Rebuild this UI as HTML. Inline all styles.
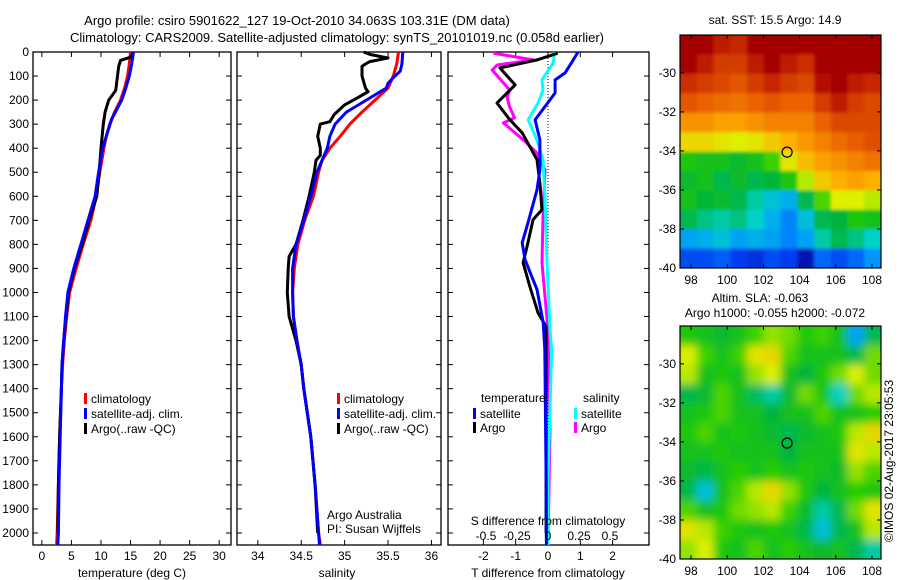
<!DOCTYPE html>
<html><head><meta charset="utf-8"><style>
html,body{margin:0;padding:0;background:#fff;}
svg{display:block;font-family:"Liberation Sans",sans-serif;font-size:12px;}
</style></head><body>
<svg id="fig" width="900" height="580" viewBox="0 0 900 580" xmlns="http://www.w3.org/2000/svg">
<g id="titles">
<text x="297" y="25" text-anchor="middle" font-size="13">Argo profile: csiro 5901622_127 19-Oct-2010 34.063S 103.31E (DM data)</text>
<text x="337" y="42" text-anchor="middle" font-size="13">Climatology: CARS2009. Satellite-adjusted climatology: synTS_20101019.nc (0.058d earlier)</text>
</g>
<g id="p1"></g>
<g id="p2"></g>
<g id="p3"></g>
<g id="m1"></g>
<g id="m2"></g>
<text x="775" y="24" text-anchor="middle">sat. SST: 15.5 Argo: 14.9</text>
<text x="760" y="302" text-anchor="middle">Altim. SLA: -0.063</text>
<text x="775" y="317" text-anchor="middle">Argo h1000: -0.055 h2000: -0.072</text>
<text transform="translate(893,461) rotate(-90)" text-anchor="middle">©IMOS 02-Aug-2017 23:05:53</text>
</svg>
<script>
// ---------- data ----------
const depthTicks=[0,100,200,300,400,500,600,700,800,900,1000,1100,1200,1300,1400,1500,1600,1700,1800,1900,2000];
const tTicks=[0,5,10,15,20,25,30];
const sTicks=[34,34.5,35,35.5,36];
const dTTicks=[-2,-1,0,1,2];
const dSTicks=[-0.5,-0.25,0,0.25,0.5];
const dSTickLabels=["-0.5","-0.25","0","0.25","0.5"];

const climTDepth=[0,50,100,150,200,250,300,350,400,500,600,700,800,900,1000,1100,1200,1300,1400,1600,1800,2000,2050];
const climTVal=[15.0,14.8,14.5,14.0,13.3,12.3,11.5,10.9,10.5,9.8,9.2,8.3,7.0,5.8,4.7,4.2,3.8,3.5,3.3,3.0,2.8,2.6,2.5];
const satTDepth=[0,50,100,150,200,280,350,400,500,600,700,800,900,1000,1100,1200,1300,1400,1600,1800,2000,2050];
const satTVal=[15.5,15.2,14.8,14.2,13.5,11.8,10.9,10.3,9.6,9.0,7.8,6.6,5.4,4.4,4.0,3.7,3.4,3.3,3.1,2.9,2.8,2.7];
const argoTDepth=[0,20,35,60,100,160,200,250,300,400,500,600,700,800,900,1000,1100,1200,1300,1400,1600,1800,2000];
const argoTVal=[15.4,15.2,13.3,13.0,12.8,12.5,11.3,10.7,10.4,10.0,9.7,9.3,8.0,6.8,5.5,4.5,4.1,3.7,3.4,3.3,3.0,2.8,2.7];

const climSDepth=[0,50,100,150,200,250,300,350,400,450,500,600,700,800,900,1000,1100,1200,1300,1400,1600,1800,2000,2050];
const climSVal=[35.62,35.60,35.56,35.50,35.35,35.20,35.06,34.95,34.83,34.74,34.70,34.64,34.54,34.46,34.42,34.40,34.41,34.45,34.50,34.53,34.61,34.66,34.70,34.72];
const satSDepth=[0,50,80,100,130,150,200,250,300,350,400,500,600,700,800,900,1000,1100,1200,1300,1400,1600,1800,2000,2050];
const satSVal=[35.67,35.66,35.64,35.58,35.50,35.48,35.25,35.02,34.89,34.83,34.80,34.68,34.61,34.53,34.44,34.40,34.40,34.41,34.45,34.50,34.53,34.61,34.66,34.70,34.71];
const argoSDepth=[0,10,25,40,50,60,100,150,165,190,220,260,290,300,350,400,430,450,500,600,700,800,850,900,1000,1100,1200,1300,1400,1600,1800,2000];
const argoSVal=[35.22,35.29,35.50,35.29,35.24,35.20,35.20,35.24,35.27,35.15,35.00,34.88,34.83,34.72,34.69,34.72,34.72,34.67,34.65,34.59,34.52,34.44,34.36,34.35,34.34,34.36,34.44,34.50,34.53,34.61,34.66,34.69];

const dTsatDepth=[0,42,87,116,170,210,282,365,490,573,710,793,864,988,1125,1236,1764,2050];
const dTsatVal=[0.93,0.74,0.53,0.22,0.22,0,-0.40,-0.25,-0.25,-0.34,-0.62,-0.80,-0.71,-0.34,-0.15,-0.10,-0.06,-0.05];
const dTargoDepth=[5,33,66,137,212,282,336,448,544,656,697,810,876,976,1084,1142,1764,2000];
const dTargoVal=[0.30,-0.34,-1.49,-1.02,-1.58,-1.18,-0.80,-0.34,-0.25,-0.19,-0.46,-0.65,-0.77,-0.56,-0.31,-0.06,-0.06,-0.06];
const dSsatDepth=[0,46,116,158,212,282,365,448,602,876,1154,1237,1764,2050];
const dSsatVal=[0.056,0.04,-0.048,-0.04,-0.08,-0.16,-0.09,-0.04,-0.024,-0.008,0.016,0.03,0.0,0.0];
const dSargoDepth=[5,33,54,75,158,190,228,274,295,365,419,490,685,876,1017,1154,1569,2050];
const dSargoVal=[-0.44,-0.12,-0.41,-0.45,-0.31,-0.33,-0.31,-0.27,-0.36,-0.20,-0.09,-0.024,-0.04,-0.048,-0.024,0.0,0.016,0.0];

const sstGrid=[
[1,1,.95,.93,1,1,1,1,1,1,1,1],
[1,.95,.9,.9,.95,1,.95,.92,1,1,1,1],
[.92,.9,.88,.86,.9,.93,.9,.88,.97,1,.95,.93],
[.86,.84,.83,.82,.84,.86,.84,.84,.9,.95,.9,.88],
[.78,.78,.76,.76,.78,.8,.8,.8,.84,.88,.88,.88],
[.68,.68,.66,.64,.66,.7,.74,.77,.8,.83,.85,.87],
[.52,.5,.5,.48,.5,.55,.66,.72,.76,.78,.8,.82],
[.48,.5,.45,.48,.45,.47,.52,.62,.7,.74,.76,.74],
[.5,.47,.48,.45,.4,.35,.32,.45,.56,.64,.64,.62],
[.45,.42,.4,.42,.38,.32,.25,.35,.45,.46,.52,.5],
[.3,.32,.35,.3,.32,.3,.25,.3,.4,.45,.42,.38],
[.15,.15,.18,.12,.1,.15,.12,.05,.2,.15,.2,.28]];
const slaGrid=[
[.52,.5,.48,.5,.55,.6,.58,.52,.55,.5,.3,.45],
[.64,.55,.5,.55,.66,.68,.56,.5,.5,.5,.45,.58],
[.62,.5,.52,.5,.6,.64,.5,.46,.52,.58,.64,.58],
[.45,.48,.56,.5,.44,.4,.48,.58,.52,.38,.58,.62],
[.5,.52,.56,.5,.5,.46,.5,.5,.56,.5,.5,.54],
[.52,.56,.5,.52,.5,.48,.45,.48,.5,.52,.62,.68],
[.5,.5,.52,.5,.5,.5,.46,.5,.5,.5,.66,.62],
[.48,.45,.5,.54,.5,.54,.5,.52,.5,.48,.6,.56],
[.45,.35,.5,.56,.62,.68,.6,.52,.46,.5,.54,.52],
[.56,.5,.52,.58,.6,.62,.55,.48,.4,.45,.58,.66],
[.66,.62,.55,.52,.5,.52,.5,.45,.35,.45,.5,.62],
[.6,.64,.52,.5,.56,.5,.54,.5,.48,.5,.45,.4]];
const sstLonTicks=[98,100,102,104,106,108];
const sstLatTicks=[-30,-32,-34,-36,-38,-40];
const argoLon=[103.31];
const argoLat=[-34.063];

// ---------- helpers ----------
const NS="http://www.w3.org/2000/svg";
function mk(p,tag,at){const e=document.createElementNS(NS,tag);for(const k in at)e.setAttribute(k,at[k]);p.appendChild(e);return e;}
const top0=52,bot0=545,dMax=2050;
const yD=d=>top0+d/dMax*(bot0-top0);
function lin(d0,d1,p0,p1){return v=>p0+(v-d0)/(d1-d0)*(p1-p0);}
const xT=lin(-1.5,32,33,231);
const xS=lin(33.76,36.11,237,441);
const xDT=lin(0,1,548,580.3);
const xDS=lin(0,1,548,672);

function box(g,x0,x1,depthLabels){
  const f=mk(g,'rect',{x:x0,y:top0,width:x1-x0,height:bot0-top0,fill:'none',stroke:'#000','stroke-width':1.3});
  
  depthTicks.forEach(d=>{
    mk(g,'line',{x1:x0,x2:x0+5,y1:yD(d),y2:yD(d),stroke:'#000'});
    mk(g,'line',{x1:x1-5,x2:x1,y1:yD(d),y2:yD(d),stroke:'#000'});
    if(depthLabels){const t=mk(g,'text',{x:x0-4,y:yD(d)+4,'text-anchor':'end'});t.textContent=d;
      }
  });
}
function xticks(g,vals,labels,fx,ly,tickBottom,tickTop){
  vals.forEach((v,i)=>{
    const x=fx(v);
    if(tickBottom)mk(g,'line',{x1:x,x2:x,y1:bot0,y2:bot0-5,stroke:'#000'});
    if(tickTop)mk(g,'line',{x1:x,x2:x,y1:top0,y2:top0+5,stroke:'#000'});
    const t=mk(g,'text',{x:x,y:ly,'text-anchor':'middle'});t.textContent=labels?labels[i]:v;
    
  });
}
function line(g,depths,vals,fx,color,name){
  const pts=depths.map((d,i)=>fx(vals[i]).toFixed(1)+','+yD(d).toFixed(1)).join(' ');
  const l=mk(g,'polyline',{points:pts,fill:'none',stroke:color,'stroke-width':3,'stroke-linejoin':'round'});
  
}
function legend(g,x,y,color,label){
  mk(g,'rect',{x:x,y:y-10,width:3,height:11,fill:color});
  const t=mk(g,'text',{x:x+7,y:y});t.textContent=label;
  
}
function txt(g,x,y,s,anchor,name){const t=mk(g,'text',{x:x,y:y,'text-anchor':anchor||'start'});t.textContent=s;
  return t;}

// ---------- panel 1 ----------
const p1=document.getElementById('p1');
box(p1,33,231,true);
xticks(p1,tTicks,null,xT,560,true,true);
txt(p1,132,577,'temperature (deg C)','middle','x-axis-title');
line(p1,climTDepth,climTVal,xT,'#f00','climatology-line');
line(p1,argoTDepth,argoTVal,xT,'#000','argo-line');
line(p1,satTDepth,satTVal,xT,'#00f','satellite-line');
legend(p1,84,403,'#f00','climatology');
legend(p1,84,418,'#00f','satellite-adj. clim.');
legend(p1,84,433,'#000','Argo(..raw -QC)');

// ---------- panel 2 ----------
const p2=document.getElementById('p2');
box(p2,237,441,false);
xticks(p2,sTicks,null,xS,560,true,true);
txt(p2,337,577,'salinity','middle','x-axis-title');
line(p2,climSDepth,climSVal,xS,'#f00','climatology-line');
line(p2,argoSDepth,argoSVal,xS,'#000','argo-line');
line(p2,satSDepth,satSVal,xS,'#00f','satellite-line');
legend(p2,337,403,'#f00','climatology');
legend(p2,337,418,'#00f','satellite-adj. clim.');
legend(p2,337,433,'#000','Argo(..raw -QC)');
txt(p2,327,519,'Argo Australia','start','credit-line-1');
txt(p2,327,533,'PI: Susan Wijffels','start','credit-line-2');

// ---------- panel 3 ----------
const p3=document.getElementById('p3');
box(p3,448,649,false);
mk(p3,'line',{x1:548,x2:548,y1:top0,y2:bot0,stroke:'#000','stroke-dasharray':'1,2'});
xticks(p3,dTTicks,null,xDT,560,true,true);
txt(p3,548,577,'T difference from climatology','middle','x-axis-title');
line(p3,dSargoDepth,dSargoVal,xDS,'#f0f','salinity-argo-line');
line(p3,dSsatDepth,dSsatVal,xDS,'#0ff','salinity-satellite-line');
line(p3,dTargoDepth,dTargoVal,xDT,'#000','temperature-argo-line');
line(p3,dTsatDepth,dTsatVal,xDT,'#00f','temperature-satellite-line');
txt(p3,481,402,'temperature','start','legend-heading');
txt(p3,583,402,'salinity','start','legend-heading');
legend(p3,473,418,'#00f','satellite');
legend(p3,473,432,'#000','Argo');
legend(p3,574,418,'#0ff','satellite');
legend(p3,574,432,'#f0f','Argo');
txt(p3,548,525,'S difference from climatology','middle','secondary-axis-title');
dSTicks.forEach((v,i)=>{txt(p3,xDS(v),540,dSTickLabels[i],'middle','s-tick-label');});

// ---------- maps ----------
const cstops=[[0,[0,0,130]],[.12,[0,60,240]],[.28,[0,150,255]],[.38,[0,210,200]],[.46,[0,180,60]],[.54,[40,205,0]],[.64,[220,240,0]],[.74,[255,175,0]],[.84,[235,100,0]],[.93,[200,40,0]],[1,[165,0,0]]];
function cmap(v){for(let i=1;i<cstops.length;i++){if(v<=cstops[i][0]){const a=cstops[i-1],b=cstops[i],t=(v-a[0])/(b[0]-a[0]);
  return 'rgb('+a[1].map((c,k)=>Math.round(c+t*(b[1][k]-c))).join(',')+')';}}return 'rgb(165,0,0)';}
function map(id,grid,y0,y1,smooth){
  const g=document.getElementById(id);
  const x0=680,x1=881;
  const xL=lin(98,108,691,872), yL=lin(-30,-40,y0+(y1-y0)*(1.94/11.94),y1);
  const rows=grid.length,cols=grid[0].length,cw=(x1-x0)/cols,ch=(y1-y0)/rows;
  const cid='clip'+id;
  const cp=mk(g,'clipPath',{id:cid});mk(cp,'rect',{x:x0,y:y0,width:x1-x0,height:y1-y0});
  let fa={};
  const f=mk(g,'filter',{id:'bl'+id,x:'-5%',y:'-5%',width:'110%',height:'110%'});mk(f,'feGaussianBlur',{stdDeviation:smooth?4.5:1.5});fa={filter:'url(#bl'+id+')'};
  const outer=mk(g,'g',{'clip-path':'url(#'+cid+')'});
  mk(outer,'rect',{x:x0,y:y0,width:x1-x0,height:y1-y0,fill:cmap(smooth?0.5:0.1)});
  const cg=mk(outer,'g',fa);
  grid.forEach((row,r)=>row.forEach((v,c)=>{
    const pad=(c===0||c===cols-1||r===0||r===rows-1)?6:0;
    const e=mk(cg,'rect',{x:x0+c*cw-(c===0?pad:0),y:y0+r*ch-(r===0?pad:0),width:cw+0.6+(c===0||c===cols-1?pad:0),height:ch+0.6+(r===0||r===rows-1?pad:0),fill:cmap(v)});
    
  }));
  const fr=mk(g,'rect',{x:x0,y:y0,width:x1-x0,height:y1-y0,fill:'none',stroke:'#000','stroke-width':1.2});
  
  sstLonTicks.forEach(v=>{mk(g,'line',{x1:xL(v),x2:xL(v),y1:y1,y2:y1-4,stroke:'#000'});mk(g,'line',{x1:xL(v),x2:xL(v),y1:y0,y2:y0+4,stroke:'#000'});
    txt(g,xL(v),y1+16,v,'middle','lon-tick-label');});
  sstLatTicks.forEach(v=>{mk(g,'line',{x1:x0,x2:x0+4,y1:yL(v),y2:yL(v),stroke:'#000'});mk(g,'line',{x1:x1-4,x2:x1,y1:yL(v),y2:yL(v),stroke:'#000'});
    txt(g,x0-4,yL(v)+4,v,'end','lat-tick-label');});
  argoLon.forEach((lo,i)=>{const c=mk(g,'ellipse',{cx:xL(lo),cy:yL(argoLat[i]),rx:5,ry:5,fill:'none',stroke:'#000','stroke-width':1.2});
    });
}
map('m1',sstGrid,35,268,false);
map('m2',slaGrid,326,559,true);
</script>
</body></html>
